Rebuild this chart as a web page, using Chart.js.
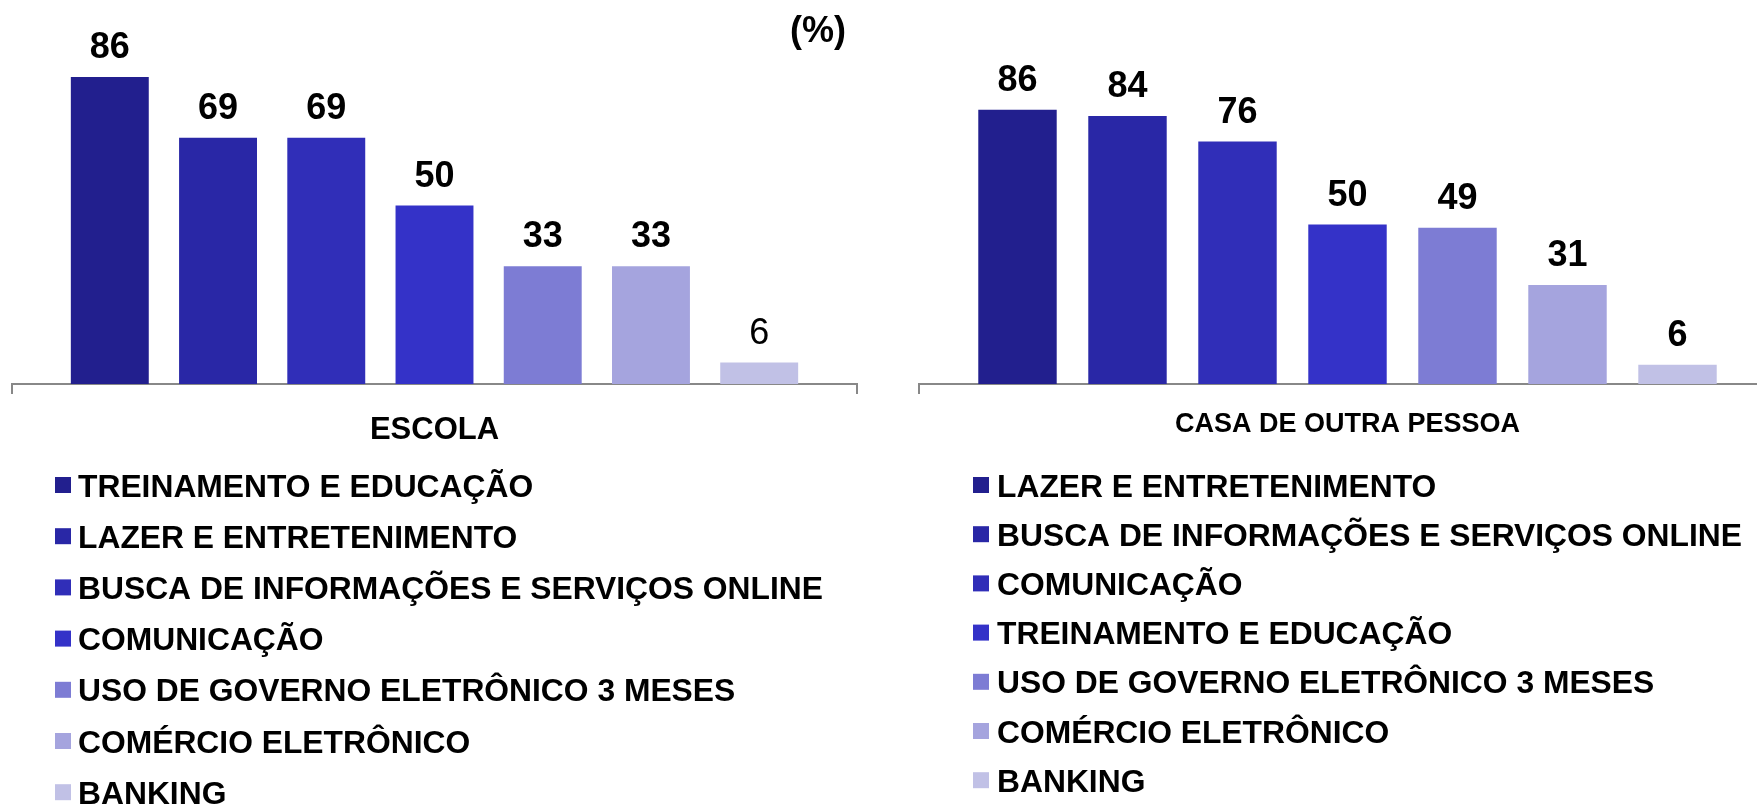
<!DOCTYPE html>
<html>
<head>
<meta charset="utf-8">
<script src="https://cdn.jsdelivr.net/npm/chart.js@4"></script>
<style>
  body { margin: 0; width: 1757px; height: 807px; overflow: hidden; background: #fff; position: relative; }
  canvas { position: absolute; top: 0; }
  #c1 { left: 0; }
  #c2 { left: 880px; }
</style>
</head>
<body>
<canvas id="c1" width="880" height="807"></canvas>
<canvas id="c2" width="896" height="807"></canvas>
<script>
// dados
const groupLabels = ['ESCOLA', 'CASA DE OUTRA PESSOA'];

const escolaCats = [
  'TREINAMENTO E EDUCAÇÃO',
  'LAZER E ENTRETENIMENTO',
  'BUSCA DE INFORMAÇÕES E SERVIÇOS ONLINE',
  'COMUNICAÇÃO',
  'USO DE GOVERNO ELETRÔNICO 3 MESES',
  'COMÉRCIO ELETRÔNICO',
  'BANKING'
];
const escolaVals = [86, 69, 69, 50, 33, 33, 6];

const casaCats = [
  'LAZER E ENTRETENIMENTO',
  'BUSCA DE INFORMAÇÕES E SERVIÇOS ONLINE',
  'COMUNICAÇÃO',
  'TREINAMENTO E EDUCAÇÃO',
  'USO DE GOVERNO ELETRÔNICO 3 MESES',
  'COMÉRCIO ELETRÔNICO',
  'BANKING'
];
const casaVals = [86, 84, 76, 50, 49, 31, 6];

const cores = ['#221f8e', '#2927a6', '#302eb8', '#3432c8', '#7d7cd4', '#a5a4de', '#c1c1e6'];

const fonte = "'Liberation Sans', Arial, sans-serif";
Chart.defaults.font.family = fonte;

// rotulos em cima das barras
const rotulos = {
  id: 'rotulos',
  afterDatasetsDraw(chart, args, opts) {
    const ctx = chart.ctx;
    ctx.save();
    ctx.fillStyle = '#000';
    ctx.textAlign = 'center';
    ctx.textBaseline = 'alphabetic';
    chart.data.datasets.forEach((ds, i) => {
      const bar = chart.getDatasetMeta(i).data[0];
      const fraco = opts.normal && opts.normal.includes(i);
      ctx.font = (fraco ? 'normal ' : 'bold ') + '36px ' + fonte;
      ctx.fillText(String(ds.data[0]), bar.x, bar.y - 19);
    });
    if (opts.extra) {
      ctx.font = 'bold 36px ' + fonte;
      ctx.fillText(opts.extra.text, opts.extra.x, opts.extra.y);
    }
    ctx.restore();
  }
};

// legenda em lista embaixo
const listaLegenda = {
  id: 'listaLegenda',
  afterDraw(chart, args, o) {
    const ctx = chart.ctx;
    ctx.save();
    ctx.font = 'bold 31.8px ' + fonte;
    ctx.textAlign = 'left';
    ctx.textBaseline = 'alphabetic';
    chart.data.datasets.forEach((ds, i) => {
      const cy = o.y0 + i * o.step;
      ctx.fillStyle = ds.backgroundColor;
      ctx.fillRect(o.boxX, cy - 8, 16, 16);
      ctx.fillStyle = '#000';
      ctx.fillText(ds.label, o.textX, cy + 11.5);
    });
    ctx.restore();
  }
};

function montar(id, grupo, cats, vals, cfg) {
  return new Chart(document.getElementById(id), {
    type: 'bar',
    data: {
      labels: [grupo],
      datasets: cats.map((c, i) => ({
        label: c,
        data: [vals[i]],
        backgroundColor: cores[i],
        borderWidth: 0,
        categoryPercentage: cfg.catPct,
        barPercentage: cfg.barPct
      }))
    },
    options: {
      responsive: false,
      animation: false,
      layout: { padding: cfg.padding },
      plugins: {
        legend: { display: false },
        tooltip: { enabled: false },
        rotulos: { normal: cfg.normal, extra: cfg.extra },
        listaLegenda: cfg.legenda
      },
      scales: {
        x: {
          offset: true,
          grid: { display: true, offset: true, drawOnChartArea: false, drawTicks: true, tickLength: 10, color: '#888', lineWidth: 2 },
          border: { display: true, color: '#888', width: 2 },
          ticks: { color: '#000', padding: cfg.tickPad, font: { size: cfg.tickSize, weight: 'bold' } }
        },
        y: { display: false, min: 0, max: 100 }
      }
    },
    plugins: [rotulos, listaLegenda]
  });
}

montar('c1', groupLabels[0], escolaCats, escolaVals, {
  padding: { left: 12, right: 23, top: 27, bottom: 341 },
  catPct: 0.8966, barPct: 0.72,
  tickSize: 31, tickPad: 17.4,
  normal: [6],
  extra: { text: '(%)', x: 818, y: 42 },
  legenda: { boxX: 55, textX: 78, y0: 485, step: 51.2 }
});

montar('c2', groupLabels[1], casaCats, casaVals, {
  padding: { left: 39, right: 0, top: 65, bottom: 351 },
  catPct: 0.8985, barPct: 0.713,
  tickSize: 27, tickPad: 14.8,
  normal: [],
  extra: null,
  legenda: { boxX: 93, textX: 117, y0: 485, step: 49.2 }
});
</script>
</body>
</html>
